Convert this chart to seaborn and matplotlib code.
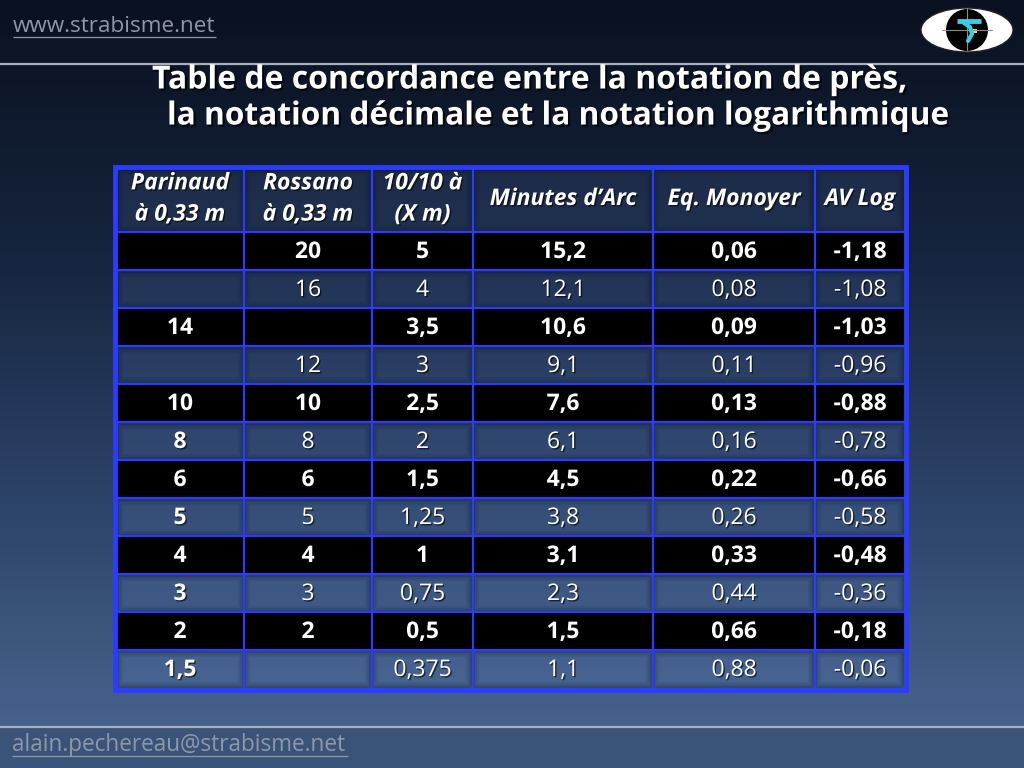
import numpy as np
import matplotlib
matplotlib.use('Agg')
import matplotlib.pyplot as plt
import matplotlib.patheffects as pe
from matplotlib.colors import ListedColormap, LinearSegmentedColormap
from matplotlib.patches import Ellipse, Circle, Rectangle
import seaborn as sns

# Données du tableau
headers = ["Parinaud\nà 0,33 m", "Rossano\nà 0,33 m", "10/10 à\n(X m)",
           "Minutes d’Arc", "Eq. Monoyer", "AV Log"]
parinaud = ["", "", "14", "", "10", "8", "6", "5", "4", "3", "2", "1,5"]
rossano = ["20", "16", "", "12", "10", "8", "6", "5", "4", "3", "2", ""]
distance = ["5", "4", "3,5", "3", "2,5", "2", "1,5", "1,25", "1", "0,75", "0,5", "0,375"]
minutes_arc = ["15,2", "12,1", "10,6", "9,1", "7,6", "6,1", "4,5", "3,8", "3,1", "2,3", "1,5", "1,1"]
monoyer = ["0,06", "0,08", "0,09", "0,11", "0,13", "0,16", "0,22", "0,26", "0,33", "0,44", "0,66", "0,88"]
av_log = ["-1,18", "-1,08", "-1,03", "-0,96", "-0,88", "-0,78", "-0,66", "-0,58", "-0,48", "-0,36", "-0,18", "-0,06"]
columns = [parinaud, rossano, distance, minutes_arc, monoyer, av_log]

# 1 = ligne noire, 0 = ligne claire (l'en-tête compte comme claire)
row_kind = [1, 0, 1, 0, 1, 0, 1, 0, 1, 0, 1, 0]

# Géométrie en pixels
col_widths = [128, 128, 101, 180, 162, 90]
row_heights = [64] + [38] * 12
TABLE_LEFT, TABLE_TOP = 116, 168
BLUE = '#2b3cff'
FONT = ['Open Sans', 'DejaVu Sans']

sns.set_theme(style='white')
plt.rcParams['font.family'] = FONT

fig = plt.figure(figsize=(10.24, 7.68), dpi=100)

# Fond dégradé (coordonnées en pixels)
bg = fig.add_axes([0, 0, 1, 1])
grad_cmap = LinearSegmentedColormap.from_list(
    'bg', ['#0a1120', '#15233c', '#2b4166', '#46628c'])
grad = np.linspace(0, 1, 727)[:, None] * np.ones((1, 2))
bg.imshow(grad, cmap=grad_cmap, aspect='auto', extent=[0, 1024, 727, 0])
bg.add_patch(Rectangle((0, 727), 1024, 41, color='#3a5379', lw=0))
bg.set_xlim(0, 1024)
bg.set_ylim(768, 0)
bg.axis('off')

bg.hlines([64, 727], 0, 1024, color='#a8b0c0', lw=1.6)

# En-tête / pied de page
link_col = '#8e98a6'
bg.text(13, 26, 'www.strabisme.net', color=link_col, fontsize=16.2, va='center', ha='left')
bg.hlines(37, 13, 216, color=link_col, lw=0.9)
bg.text(12, 745, 'alain.pechereau@strabisme.net', color=link_col, fontsize=16.3, va='center', ha='left')
bg.hlines(756, 12, 348, color=link_col, lw=0.9)

shadow = [pe.withSimplePatchShadow(offset=(1.5, -1.5), shadow_rgbFace='black', alpha=0.7)]
bg.text(152, 80, 'Table de concordance entre la notation de près,', color='white',
        fontsize=23, fontweight='bold', va='center', ha='left', path_effects=shadow)
bg.text(167, 116, 'la notation décimale et la notation logarithmique', color='white',
        fontsize=22.8, fontweight='bold', va='center', ha='left', path_effects=shadow)

# Logo
bg.add_patch(Ellipse((967, 30), 92, 44, facecolor='white', edgecolor='#222', lw=1))
bg.add_patch(Circle((967, 30), 21, facecolor='black', lw=0))
bg.plot([942, 992], [30, 30], color='#8a8a8a', lw=0.8)
bg.plot([967, 967], [8, 50], color='#8a8a8a', lw=0.8)
bg.plot([957, 981], [21, 21], color='#33d0e8', lw=3.5, solid_capstyle='butt')
bg.plot([964, 970, 972, 968], [23, 27, 34, 41], color='#33d0e8', lw=3)
bg.add_patch(Rectangle((973, 29), 4, 4, color='#f0e040', lw=0))

# Tableau via heatmap
kinds = np.array([0] + row_kind)
grid = np.repeat(np.repeat(kinds[:, None] * np.ones((1, len(col_widths))),
                           row_heights, axis=0), col_widths, axis=1)
tw, th = sum(col_widths), sum(row_heights)
ax = fig.add_axes([TABLE_LEFT / 1024, 1 - (TABLE_TOP + th) / 768, tw / 1024, th / 768])
cell_cmap = ListedColormap([(0.45, 0.6, 0.9, 0.12), (0, 0, 0, 1)])
sns.heatmap(grid, ax=ax, cmap=cell_cmap, vmin=0, vmax=1, cbar=False,
            xticklabels=False, yticklabels=False, rasterized=True)
ax.patch.set_alpha(0)
ax.set_xlim(0, tw)
ax.set_ylim(th, 0)

xb = np.concatenate([[0], np.cumsum(col_widths)])
yb = np.concatenate([[0], np.cumsum(row_heights)])

# léger ombrage intérieur des cellules claires
for i, k in enumerate(kinds):
    if k == 0:
        for j in range(len(col_widths)):
            for inset, a in [(1.5, 0.3), (3.5, 0.15), (5.5, 0.07)]:
                ax.add_patch(Rectangle((xb[j] + inset, yb[i] + inset),
                                       col_widths[j] - 2 * inset, row_heights[i] - 2 * inset,
                                       fill=False, edgecolor=(0.02, 0.05, 0.12, a), lw=1.5))

ax.vlines(xb[1:-1], 0, th, color=BLUE, lw=1.6)
ax.hlines(yb[1:-1], 0, tw, color=BLUE, lw=1.6)
ax.add_patch(Rectangle((-1.5, -1.5), tw + 3, th + 3, fill=False, edgecolor=BLUE,
                       lw=3.5, clip_on=False))

xc = (xb[:-1] + xb[1:]) / 2
yc = (yb[:-1] + yb[1:]) / 2
txt_shadow = [pe.withSimplePatchShadow(offset=(1, -1), shadow_rgbFace='black', alpha=0.6)]

for j, h in enumerate(headers):
    ax.text(xc[j], yc[0] - 1, h, color='white', fontsize=16.5, fontweight='bold',
            fontstyle='italic', ha='center', va='center', linespacing=1.4,
            path_effects=txt_shadow)

for i in range(len(row_kind)):
    for j, col in enumerate(columns):
        bold = row_kind[i] == 1 or j == 0
        ax.text(xc[j], yc[i + 1] + 1, col[i], color='white', fontsize=16.5,
                fontweight='bold' if bold else 'normal', ha='center', va='center',
                path_effects=txt_shadow)

fig.savefig('out.png', dpi=100)
plt.close(fig)
